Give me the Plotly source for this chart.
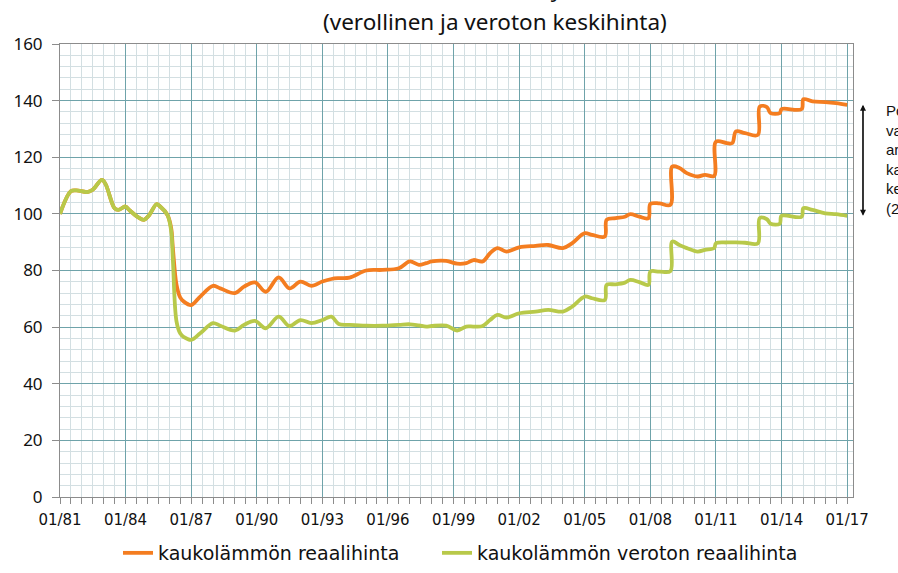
import plotly.graph_objects as go

# ---- data ----
dates = [
    "1981-01", "1981-07", "1981-10", "1982-04", "1982-07", "1982-12", "1983-02",
    "1983-07", "1983-09", "1984-01", "1984-03", "1984-08", "1984-11", "1985-02",
    "1985-06", "1985-08", "1985-12", "1986-02", "1986-03", "1986-05", "1986-07",
    "1986-09", "1987-01", "1987-06", "1988-01", "1988-05", "1989-01", "1989-06",
    "1989-12", "1990-06", "1991-01", "1991-07", "1992-01", "1992-07", "1993-01",
    "1993-06", "1993-10", "1994-04", "1995-01", "1995-10", "1996-07", "1997-01",
    "1997-06", "1997-10", "1998-01", "1998-09", "1999-03", "1999-08", "1999-12",
    "2000-05", "2000-09", "2001-01", "2001-06", "2002-01", "2002-10", "2003-05",
    "2004-01", "2004-06", "2005-01", "2005-05", "2005-12", "2006-01", "2006-06",
    "2006-11", "2007-02", "2007-07", "2007-12", "2008-01", "2008-06", "2008-12",
    "2009-01", "2009-05", "2009-09", "2010-03", "2010-07", "2010-12", "2011-01",
    "2011-07", "2011-10", "2011-12", "2012-05", "2012-12", "2013-01", "2013-05",
    "2013-07", "2013-12", "2014-01", "2014-12", "2015-01", "2015-06", "2016-01",
    "2016-07", "2017-01",
]

reaalihinta = [
    100, 108, 108.3, 107.7, 108.5, 112, 110.5,
    102, 101.4, 102.6, 101.4, 98.8, 97.9, 99.6,
    103.4, 102.6, 99.6, 95, 88, 75, 70.5,
    69, 67.8, 70.8, 74.6, 73.7, 72, 74.3,
    75.8, 72.5, 77.6, 73.7, 76.1, 74.6, 76.1,
    77.0, 77.3, 77.5, 80.0, 80.2, 80.8, 83.2,
    82.0, 82.6, 83.2, 83.4, 82.4, 82.6, 83.7,
    83.2, 86.1, 87.9, 86.7, 88.2, 88.7, 89.0,
    87.9, 89.6, 93.2, 92.6, 92.0, 97.9, 98.5,
    99.0, 99.9, 99.0, 98.5, 103.5, 103.7, 103.2,
    116.7, 116.2, 114.4, 113.2, 113.8, 113.4, 125.5,
    125.0, 125.0, 129.1, 128.5, 127.9, 137.9, 137.7,
    135.6, 135.6, 137.0, 137.0, 140.5, 139.7, 139.5,
    139.1, 138.5,
]

veroton = [
    100, 108, 108.3, 107.7, 108.5, 112, 110.5,
    102, 101.4, 102.6, 101.4, 98.8, 97.9, 99.6,
    103.4, 102.6, 99.6, 94, 84, 62, 57.8,
    56.5, 55.5, 57.8, 61.4, 60.5, 58.8, 60.8,
    62.2, 59.6, 63.7, 60.4, 62.5, 61.4, 62.5,
    63.7, 61.1, 60.8, 60.5, 60.5, 60.8, 61.0,
    60.6, 60.2, 60.4, 60.5, 58.8, 60.2, 60.2,
    60.4, 62.5, 64.3, 63.4, 64.9, 65.5, 66.1,
    65.5, 67.2, 70.8, 70.2, 69.6, 74.9, 75.1,
    75.7, 76.7, 75.9, 74.9, 79.6, 79.6, 79.8,
    90.2, 89.0, 87.9, 86.7, 87.3, 87.9, 89.6,
    89.9, 89.9, 89.9, 89.8, 89.6, 98.5, 98.1,
    96.5, 96.5, 99.3, 99.0, 102.0, 101.4, 100.2,
    99.9, 99.3,
]

name_a = "kaukolämmön reaalihinta"
name_b = "kaukolämmön veroton reaalihinta"
title_1 = "Kaukolämmön reaalihinnan kehitys, indeksi 1/1981=100"
title_2 = "(verollinen ja veroton keskihinta)"
side_note = "Portaat<br>vaikuttavat<br>arvonlisävero ja<br>kaukolämmön<br>keskihintaan<br>(2017)"

ORANGE = "#F47D20"
GREEN = "#B8C94A"
MAJOR = "#6FA3AA"
MINOR = "#D3DFE2"
AXIS = "#8C8C8C"

fig = go.Figure()
fig.add_trace(go.Scatter(x=dates, y=reaalihinta, name=name_a, mode="lines", legend="legend",
                         line=dict(color=ORANGE, width=3.8, shape="spline", smoothing=1.0)))
fig.add_trace(go.Scatter(x=dates, y=veroton, name=name_b, mode="lines", legend="legend2",
                         line=dict(color=GREEN, width=3.8, shape="spline", smoothing=1.0)))

legend_common = dict(orientation="h", xref="container", yref="container",
                     xanchor="left", y=20 / 573, yanchor="middle",
                     font=dict(family="DejaVu Sans", size=19, color="#111111"),
                     itemwidth=30, bgcolor="rgba(0,0,0,0)")

fig.update_layout(
    width=898, height=573,
    margin=dict(l=60, r=45, t=44, b=76, autoexpand=False),
    paper_bgcolor="white", plot_bgcolor="white",
    showlegend=True,
    legend=dict(x=118 / 898, **legend_common),
    legend2=dict(x=437 / 898, **legend_common),
    font=dict(family="Noto Sans", color="#111111"),
)

fig.update_xaxes(
    type="date", range=["1981-01-01", "2017-04-08"],
    tick0="1981-01-01", dtick="M36", tickformat="%m/%y",
    tickfont=dict(family="DejaVu Sans", size=15, color="#111111"),
    showgrid=True, gridcolor=MAJOR, gridwidth=1,
    showline=True, linecolor=AXIS, linewidth=1, mirror=True,
    ticks="outside", ticklen=6, tickcolor=AXIS, ticklabelstandoff=3,
    minor=dict(dtick="M6", tick0="1981-01-01", showgrid=True, gridcolor=MINOR,
               ticks="outside", ticklen=6, tickcolor=AXIS),
    zeroline=False,
)
fig.update_yaxes(
    range=[0, 160], dtick=20, tick0=0,
    tickfont=dict(family="Noto Sans", size=17, color="#111111"),
    showgrid=True, gridcolor=MAJOR, gridwidth=1,
    showline=True, linecolor=AXIS, linewidth=1, mirror=True,
    ticks="outside", ticklen=7, tickcolor=AXIS, ticklabelstandoff=6,
    minor=dict(dtick=4, tick0=0, showgrid=True, gridcolor=MINOR),
    zeroline=False,
)

# titles (first line is cut off at the top edge, as in the reference)
fig.add_annotation(text=title_1, xref="paper", yref="paper", x=0.5486, y=1.1236,
                   xanchor="center", yanchor="middle", showarrow=False,
                   font=dict(family="Noto Sans", size=22.5, color="#111111"))
fig.add_annotation(text=title_2, xref="paper", yref="paper", x=0.5486, y=1.0486,
                   xanchor="center", yanchor="middle", showarrow=False,
                   font=dict(family="Noto Sans", size=22.5, color="#111111"))

# side note + double arrow spanning the difference of the last values
fig.add_annotation(text=side_note, xref="paper", yref="paper", x=1.039, y=0.744,
                   xanchor="left", yanchor="middle", align="left", showarrow=False,
                   font=dict(family="Liberation Sans", size=15, color="#111111"))
for tip, tail in ((reaalihinta[-1], veroton[-1]), (veroton[-1], reaalihinta[-1])):
    fig.add_annotation(text="", xref="paper", yref="y", x=1.0126, y=tip,
                       axref="pixel", ax=0, ayref="y", ay=tail,
                       showarrow=True, arrowhead=2, arrowsize=1, arrowwidth=1.2,
                       arrowcolor="#111111")

fig.write_html("out.html")
